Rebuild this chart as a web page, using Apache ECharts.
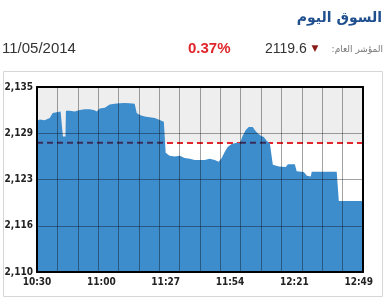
<!DOCTYPE html>
<html><head><meta charset="utf-8">
<script src="https://cdn.jsdelivr.net/npm/echarts@6/dist/echarts.min.js"></script>
<style>html,body{margin:0;padding:0;background:#fff}#c{width:386px;height:300px}</style>
</head><body><div id="c"></div>
<script>
// ---- data ----
var timeLabels = ['10:30', '11:00', '11:27', '11:54', '12:21', '12:49'];
var yTickLabels = ['2,110', '2,116', '2,123', '2,129', '2,135'];
// minutes after 10:30
var minutes = [0, 1.2, 3.3, 5.5, 6.8, 8.5, 10.2, 11.0, 11.2, 12.3, 12.5, 12.8, 14.1, 16.3, 18.5, 20.6, 22.8, 24.9, 25.8, 27.1, 29.3,
  31.4, 33.6, 35.7, 37.9, 40.1, 42.2, 43.1, 44.4, 46.5, 48.7, 50.9, 53.0, 54.8, 55.6, 57.3, 59.5, 61.7, 62.5, 63.8, 66.0,
  68.1, 70.3, 72.5, 74.6, 76.8, 78.5, 79.8, 81.1, 82.4, 84.1, 86.3, 87.6, 88.9, 90.2, 91.5, 93.2, 94.1, 95.4, 96.7, 98.0,
  99.3, 100.6, 101.4, 101.9, 104.5, 107.5, 108.4, 111.4, 112.2, 115.3, 116.6, 118.3, 118.7, 129.5, 130.4, 140.86];
var values = [2130.4, 2130.6, 2130.5, 2130.8, 2131.5, 2131.6, 2131.7, 2131.6, 2128.3, 2128.3, 2131.8, 2132.0, 2131.8, 2131.7, 2131.9, 2132.0, 2132.0, 2131.85, 2131.7, 2132.1, 2132.2,
  2132.65, 2132.75, 2132.8, 2132.85, 2132.8, 2132.75, 2131.5, 2131.2, 2131.0, 2130.9, 2130.8, 2130.55, 2130.3, 2126.1, 2125.7, 2125.6, 2125.7, 2125.8, 2125.4, 2125.3,
  2125.15, 2125.15, 2125.15, 2125.3, 2125.15, 2124.9, 2125.4, 2126.2, 2126.9, 2127.3, 2127.45, 2127.4, 2128.4, 2129.2, 2129.6, 2129.6, 2129.2, 2128.7, 2128.4, 2128.25,
  2127.7, 2127.4, 2127.3, 2124.5, 2124.25, 2124.2, 2124.55, 2124.55, 2123.6, 2123.5, 2123.0, 2122.9, 2123.55, 2123.55, 2119.6, 2119.6];
var prevClose = 2127.47;
var indexValue = '2119.6';
var changePct = '0.37%';
var dateText = '11/05/2014';

// ---- build ----
var yMin = 2110, yMax = 2135, yInt = 6.25;
var xMax = 140.86, xGridInt = xMax / 16, xLabelInt = 27.8;
var areaData = minutes.map(function (m, i) { return [m, values[i]]; });
// dashed segments where the area covers the previous-close line
var darkData = [];
for (var i = 0; i < values.length; i++) {
  if (i > 0) {
    var a = values[i - 1] - prevClose, b = values[i] - prevClose;
    if ((a >= 0) !== (b >= 0)) {
      var t = a / (a - b);
      var xc = minutes[i - 1] + t * (minutes[i] - minutes[i - 1]);
      if (a >= 0) { darkData.push([xc, prevClose]); darkData.push([xc, null]); }
      else { darkData.push([xc, prevClose]); }
    }
  }
  darkData.push([minutes[i], values[i] >= prevClose ? prevClose : null]);
}

var lblFont = 'DejaVu Sans Condensed';
var chart = echarts.init(document.getElementById('c'));
chart.setOption({
  animation: false,
  backgroundColor: '#fff',
  grid: { left: 37, right: 23, top: 87, bottom: 28, show: true, backgroundColor: '#eeeeee', borderWidth: 0 },
  graphic: [
    { type: 'rect', z: -10, shape: { x: 3.5, y: 71.5, width: 379, height: 225 }, style: { fill: 'none', stroke: '#d6d6d6', lineWidth: 1 } },
    { type: 'text', style: { text: 'السوق اليوم', x: 382, y: 18, align: 'right', verticalAlign: 'middle', font: 'bold 14px "DejaVu Sans"', fill: '#1f4f8f' } },
    { type: 'text', style: { text: dateText, x: 2, y: 49, align: 'left', verticalAlign: 'middle', font: '15px "Liberation Sans"', fill: '#333' } },
    { type: 'text', style: { text: changePct, x: 188, y: 49, align: 'left', verticalAlign: 'middle', font: 'bold 15px "Liberation Sans"', fill: '#e0262b' } },
    { type: 'text', style: { text: indexValue, x: 265, y: 49, align: 'left', verticalAlign: 'middle', font: '14px "Liberation Sans"', fill: '#333' } },
    { type: 'text', style: { text: '▼', x: 315, y: 49, align: 'center', verticalAlign: 'middle', font: '9px "DejaVu Sans"', fill: '#8b1a1a' } },
    { type: 'text', style: { text: 'المؤشر العام:\u200F', x: 383, y: 50, align: 'right', verticalAlign: 'middle', font: '9px "DejaVu Sans"', fill: '#777' } }
  ],
  xAxis: [
    { type: 'value', min: 0, max: xMax, interval: xGridInt, position: 'bottom', z: 5,
      axisLine: { show: true, onZero: false, lineStyle: { color: '#000', width: 2 } },
      axisTick: { show: false }, axisLabel: { show: false },
      splitLine: { show: true, lineStyle: { color: 'rgba(0,0,0,0.36)', width: 1 } } },
    { type: 'value', min: 0, max: xMax, position: 'top', z: 5,
      axisLine: { show: true, onZero: false, lineStyle: { color: '#000', width: 2 } },
      axisTick: { show: false }, axisLabel: { show: false }, splitLine: { show: false } },
    { type: 'value', min: 0, max: xMax, interval: xLabelInt, position: 'bottom', offset: 0, z: 5,
      axisLine: { show: false }, axisTick: { show: false }, splitLine: { show: false },
      axisLabel: { show: true, margin: 5, color: '#222', fontFamily: lblFont, fontWeight: 'bold', fontSize: 10,
        formatter: function (v) {
          var k = Math.round(v / xLabelInt);
          return (Math.abs(v - k * xLabelInt) < 0.01 && k < timeLabels.length) ? timeLabels[k] : '';
        } } }
  ],
  yAxis: [
    { type: 'value', min: yMin, max: yMax, interval: yInt, position: 'left', z: 5,
      axisLine: { show: true, onZero: false, lineStyle: { color: '#000', width: 2 } },
      axisTick: { show: false },
      axisLabel: { margin: 4, color: '#222', fontFamily: lblFont, fontWeight: 'bold', fontSize: 10,
        formatter: function (v, idx) { return yTickLabels[idx]; } },
      splitLine: { show: true, lineStyle: { color: 'rgba(0,0,0,0.36)', width: 1 } } },
    { type: 'value', min: yMin, max: yMax, position: 'right', z: 5,
      axisLine: { show: true, onZero: false, lineStyle: { color: '#000', width: 2 } },
      axisTick: { show: false }, axisLabel: { show: false }, splitLine: { show: false } }
  ],
  series: [
    { type: 'line', z: 1, data: [], xAxisIndex: 0, yAxisIndex: 0, silent: true,
      markArea: { silent: true, z: 1, itemStyle: { color: '#ffffff' }, data: [[{ yAxis: yMin }, { yAxis: prevClose }]] },
      markLine: { silent: true, z: 1, symbol: 'none', label: { show: false },
        lineStyle: { color: '#e0262b', type: [6, 4], width: 2 }, data: [{ yAxis: prevClose }] } },
    { type: 'line', z: 2, xAxisIndex: 0, yAxisIndex: 0, data: areaData, showSymbol: false, symbol: 'none',
      lineStyle: { color: '#3d8ccb', width: 0 }, areaStyle: { color: '#3d8ccb', opacity: 1, origin: 'start' } },
    { type: 'line', z: 3, xAxisIndex: 0, yAxisIndex: 0, data: darkData, showSymbol: false, symbol: 'none', connectNulls: false,
      lineStyle: { color: '#3a2c5a', type: [6, 4], width: 2 } }
  ]
});
</script></body></html>
